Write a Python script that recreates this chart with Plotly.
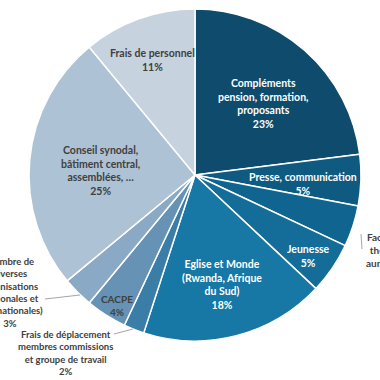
import plotly.graph_objects as go

# ---- data ----
categories = [
    "Compléments<br>pension, formation,<br>proposants",
    "Presse, communication",
    "Facultés de<br>théologie,<br>aumôneries",
    "Jeunesse",
    "Eglise et Monde<br>(Rwanda, Afrique<br>du Sud)",
    "Frais de déplacement<br>membres commissions<br>et groupe de travail",
    "CACPE",
    "Membre de<br>diverses<br>organisations<br>(nationales et<br>internationales)",
    "Conseil synodal,<br>bâtiment central,<br>assemblées, …",
    "Frais de personnel",
]
percent = [23, 5, 4, 5, 18, 2, 4, 3, 25, 11]

# ---- styles ----
colors = ["#0e4b6c", "#0f5a80", "#106590", "#136d98", "#1777a5",
          "#3a7ea8", "#6592b5", "#8aa9c4", "#adc2d4", "#c6d2de"]
text_colors = ["white", "white", "#404040", "white", "white",
               "#404040", "#404040", "#404040", "#404040", "#404040"]
label_px = [(263, 104), (303, 184), (392, 256), (308, 256), (222, 284),
            (65, 353), (117, 305), (10, 292), (100, 171), (152, 60)]
label_size = [10.5, 10.5, 10, 10.5, 10.5, 9.5, 10, 9.5, 10.5, 10.5]

W = H = 380
cx, cy, R = 195, 175, 166

fig = go.Figure(go.Pie(
    labels=categories,
    values=percent,
    sort=False,
    direction="clockwise",
    rotation=0,
    marker=dict(colors=colors, line=dict(color="white", width=1.5)),
    textinfo="none",
    hoverinfo="label+percent",
    domain=dict(x=[(cx - R) / W, (cx + R) / W],
                y=[1 - (cy + R) / H, 1 - (cy - R) / H]),
    showlegend=False,
))

for lab, val, (px, py), col, sz in zip(categories, percent, label_px, text_colors, label_size):
    fig.add_annotation(
        x=px / W, y=1 - py / H, xref="paper", yref="paper",
        text=f"{lab}<br>{val}%", showarrow=False,
        font=dict(family="Lato", size=sz, color=col, weight="bold"),
        align="center", xanchor="center", yanchor="middle",
    )

leaders = [((45, 299), (80, 295)), ((114, 334), (133, 329)), ((361, 234), (362, 249))]
for (x0, y0), (x1, y1) in leaders:
    fig.add_shape(type="line", xref="paper", yref="paper",
                  x0=x0 / W, y0=1 - y0 / H, x1=x1 / W, y1=1 - y1 / H,
                  line=dict(color="#a6a6a6", width=1))

fig.update_layout(
    width=W, height=H,
    margin=dict(l=0, r=0, t=0, b=0),
    paper_bgcolor="white", plot_bgcolor="white",
)

fig.write_html("out.html",
               config={"displayModeBar": False},
               post_script="document.body.style.margin='0';document.body.style.overflow='hidden';")
